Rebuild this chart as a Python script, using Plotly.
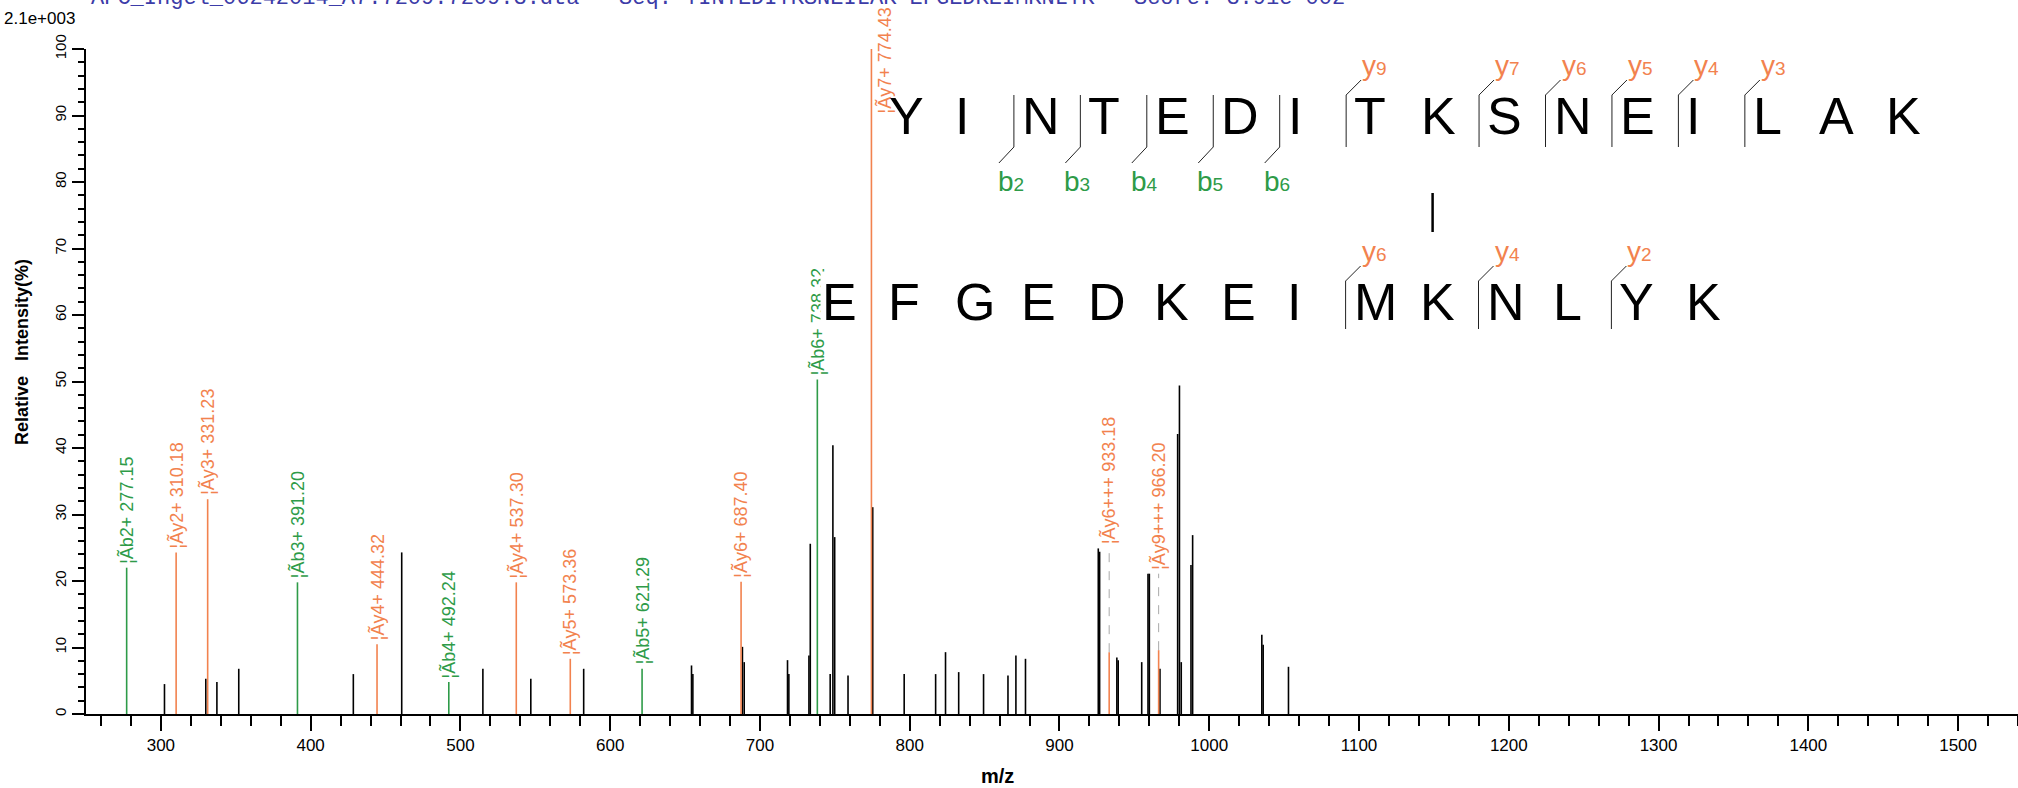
import plotly.graph_objects as go

# ---------------- data ----------------
black_mz = [302.4, 330.0, 337.4, 352.0, 428.5, 460.8, 515.0, 547.0, 582.3,
            654.3, 655.2, 688.3, 689.5, 718.4, 719.3, 732.7, 733.6, 746.9,
            748.7, 749.9, 758.8, 775.3, 796.3, 817.3, 823.9, 832.7, 849.3,
            865.6, 870.9, 877.3, 925.9, 926.8, 938.3, 939.2, 954.9, 959.1,
            960.0, 967.1, 978.9, 980.1, 981.3, 987.8, 988.9, 1035.1, 1036.0,
            1052.9]
black_int = [4.5, 5.3, 4.8, 6.8, 6.0, 24.3, 6.8, 5.3, 6.8,
             7.3, 6.0, 10.1, 7.8, 8.1, 6.0, 8.8, 25.6, 6.0,
             40.4, 26.6, 5.8, 31.1, 6.0, 6.0, 9.3, 6.3, 6.0,
             5.8, 8.8, 8.3, 24.9, 24.4, 8.5, 8.1, 7.8, 21.1,
             21.1, 6.8, 42.1, 49.4, 7.8, 22.4, 26.9, 11.9, 10.4,
             7.1]

ion_mz = [277.15, 310.18, 331.23, 391.20, 444.32, 492.24, 537.30, 573.36,
          621.29, 687.40, 738.32, 774.43, 933.18, 966.20]
ion_int = [22.0, 24.3, 32.3, 19.8, 10.5, 4.8, 19.8, 8.3,
           6.8, 19.9, 50.3, 100.0, 9.3, 9.6]
ion_type = ["b", "y", "y", "b", "y", "b", "y", "y",
            "b", "y", "b", "y", "y", "y"]
ion_name = ["b2+", "y2+", "y3+", "b3+", "y4+", "b4+", "y4+", "y5+",
            "b5+", "y6+", "b6+", "y7+", "y6+++", "y9+++"]

pep1 = "YINTEDITKSNEILAK"
pep2 = "EFGEDKEIMKNLYK"
pep1_b = [2, 3, 4, 5, 6]               # b-ion cleavage sites on peptide 1
pep1_y = [9, 7, 6, 5, 4, 3]            # y-ion cleavage sites on peptide 1
pep2_y = [6, 4, 2]                     # y-ion cleavage sites on peptide 2
link1, link2 = 8, 9                    # cross-linked K (0-based) in each peptide

title_text = ("APC_Ingel_06242014_A7.7209.7209.3.dta   Seq: "
              "YINTEDITKSNEILAK-EFGEDKEIMKNLYK   Score: 3.91e-002")
scale_text = "2.1e+003"

# ---------------- styles / layout ----------------
W, H = 2018, 788
L, R, T, B = 86, 2018, 49, 714
ORANGE = "#F2824E"
GREEN = "#2E9B48"
FONT = "Arial, Liberation Sans, sans-serif"


def px(xp):
    return (xp - L) / (R - L)


def py(yp):
    return (B - yp) / (B - T)


fig = go.Figure()

# black (unassigned) peaks
xs, ys = [], []
for m, h in zip(black_mz, black_int):
    xs += [m, m, None]
    ys += [0, h, None]
fig.add_trace(go.Scatter(x=xs, y=ys, mode="lines",
                         line=dict(color="black", width=1.6),
                         hoverinfo="skip", showlegend=False))

# matched ions
for kind, col in (("b", GREEN), ("y", ORANGE)):
    xs, ys = [], []
    for m, h, t in zip(ion_mz, ion_int, ion_type):
        if t == kind:
            xs += [m, m, None]
            ys += [0, h, None]
    fig.add_trace(go.Scatter(x=xs, y=ys, mode="lines",
                             line=dict(color=col, width=1.6),
                             hoverinfo="skip", showlegend=False))

# label placement: above the highest neighbouring peak
all_mz = black_mz + ion_mz
all_int = black_int + ion_int
annotations = []
dash_x, dash_y = [], []
LAB = 18
for m, h, t, n in zip(ion_mz, ion_int, ion_type, ion_name):
    col = GREEN if t == "b" else ORANGE
    txt = "¦Ã%s %.2f" % (n, m)
    if h >= 95:
        annotations.append(dict(x=m, y=h - 10, xref="x", yref="y", text=txt,
                                textangle=-90, showarrow=False,
                                xanchor="left", yanchor="bottom", xshift=1,
                                font=dict(family=FONT, size=LAB, color=col)))
        continue
    ly = h
    for mm, hh in zip(all_mz, all_int):
        if mm != m and abs(mm - m) <= 8:
            ly = max(ly, hh)
    if ly > h:
        dash_x += [m, m, None]
        dash_y += [h, ly, None]
    annotations.append(dict(x=m, y=ly, xref="x", yref="y", text=txt,
                            textangle=-90, showarrow=False,
                            xanchor="center", yanchor="bottom", yshift=2,
                            font=dict(family=FONT, size=LAB, color=col)))

fig.add_trace(go.Scatter(x=dash_x, y=dash_y, mode="lines",
                         line=dict(color="#AAAAAA", width=1, dash="dash"),
                         hoverinfo="skip", showlegend=False))

# ---------------- peptide diagram ----------------
shapes = []
SW = 66.45
P1X, P1Y = 881, 116
P2X, P2Y = 814, 302
LET = 52


def seq_letters(seq, x0, yc, bg=None):
    for i, ch in enumerate(seq):
        a = dict(x=px(x0 + i * SW + 6), y=py(yc),
                 xref="paper", yref="paper", text=ch,
                 showarrow=False, xanchor="left", yanchor="middle",
                 font=dict(family=FONT, size=LET, color="black"))
        if bg and i == 0:
            a["bgcolor"] = bg
        annotations.append(a)


def line(x0, y0, x1, y1, w=1, c="#222222"):
    shapes.append(dict(type="line", xref="paper", yref="paper",
                       x0=px(x0), y0=py(y0), x1=px(x1), y1=py(y1),
                       line=dict(color=c, width=w)))


def ion_label(kind, num, xl, yp, anchor):
    col = GREEN if kind == "b" else ORANGE
    annotations.append(dict(x=px(xl), y=py(yp), xref="paper", yref="paper",
                            text="%s<span style='font-size:19px'>%d</span>"
                                 % (kind, num),
                            showarrow=False, xanchor="left", yanchor=anchor,
                            font=dict(family=FONT, size=28, color=col)))


seq_letters(pep1, P1X, P1Y)
seq_letters(pep2, P2X, P2Y, bg="white")

for k in pep1_b:
    bx = P1X + k * SW
    line(bx, P1Y - 21, bx, P1Y + 31)
    line(bx, P1Y + 31, bx - 15, P1Y + 47)
    ion_label("b", k, bx - 18, P1Y + 48, "top")

n1 = len(pep1)
for k in pep1_y:
    bx = P1X + (n1 - k) * SW
    line(bx, P1Y + 31, bx, P1Y - 21)
    line(bx, P1Y - 21, bx + 15, P1Y - 36)
    ion_label("y", k, bx + 14, P1Y - 33, "bottom")

n2 = len(pep2)
for k in pep2_y:
    bx = P2X + (n2 - k) * SW
    line(bx, P2Y + 27, bx, P2Y - 21)
    line(bx, P2Y - 21, bx + 15, P2Y - 36)
    ion_label("y", k, bx + 14, P2Y - 33, "bottom")

# cross-link bar
cx = P1X + link1 * SW + 20
line(cx, 193, cx, 232, w=2.5, c="black")

# ---------------- texts ----------------
annotations.append(dict(x=px(89), y=py(13), xref="paper", yref="paper",
                        text=title_text, showarrow=False, xanchor="left",
                        yanchor="bottom",
                        font=dict(family="Courier New, Liberation Mono, monospace",
                                  size=22, color="#3C3CA8")))
annotations.append(dict(x=px(2), y=py(18), xref="paper", yref="paper",
                        text=scale_text, showarrow=False, xanchor="left",
                        yanchor="middle",
                        font=dict(family=FONT, size=17, color="black")))
annotations.append(dict(x=px(22), y=py(352), xref="paper", yref="paper",
                        text="<b>Relative   Intensity(%)</b>", textangle=-90,
                        showarrow=False, xanchor="center", yanchor="middle",
                        font=dict(family=FONT, size=18, color="black")))
annotations.append(dict(x=px(997), y=py(776), xref="paper", yref="paper",
                        text="<b>m/z</b>", showarrow=False, xanchor="center",
                        yanchor="middle",
                        font=dict(family=FONT, size=20, color="black")))

fig.update_layout(
    width=W, height=H,
    margin=dict(l=L, r=W - R, t=T, b=H - B, pad=0),
    paper_bgcolor="white", plot_bgcolor="white",
    showlegend=False,
    annotations=annotations, shapes=shapes,
    xaxis=dict(range=[250, 1540], tick0=0, dtick=100, ticks="outside",
               ticklen=15, tickwidth=1.5, tickcolor="black",
               minor=dict(dtick=20, ticks="outside", ticklen=10,
                          tickwidth=1.5, tickcolor="black"),
               showline=True, linewidth=2, linecolor="black",
               showgrid=False, zeroline=False,
               tickfont=dict(family=FONT, size=17, color="black")),
    yaxis=dict(range=[0, 100], tick0=0, dtick=10, ticks="outside",
               ticklen=12, tickwidth=1.5, tickcolor="black",
               minor=dict(dtick=2, ticks="outside", ticklen=6,
                          tickwidth=1.5, tickcolor="black"),
               showline=True, linewidth=2, linecolor="black",
               showgrid=False, zeroline=False, tickangle=-90,
               tickfont=dict(family=FONT, size=15, color="black")),
)

fig.write_html("out.html",
               config={"displayModeBar": False},
               post_script="document.body.style.margin='0';"
                           "document.body.style.overflow='hidden';")
